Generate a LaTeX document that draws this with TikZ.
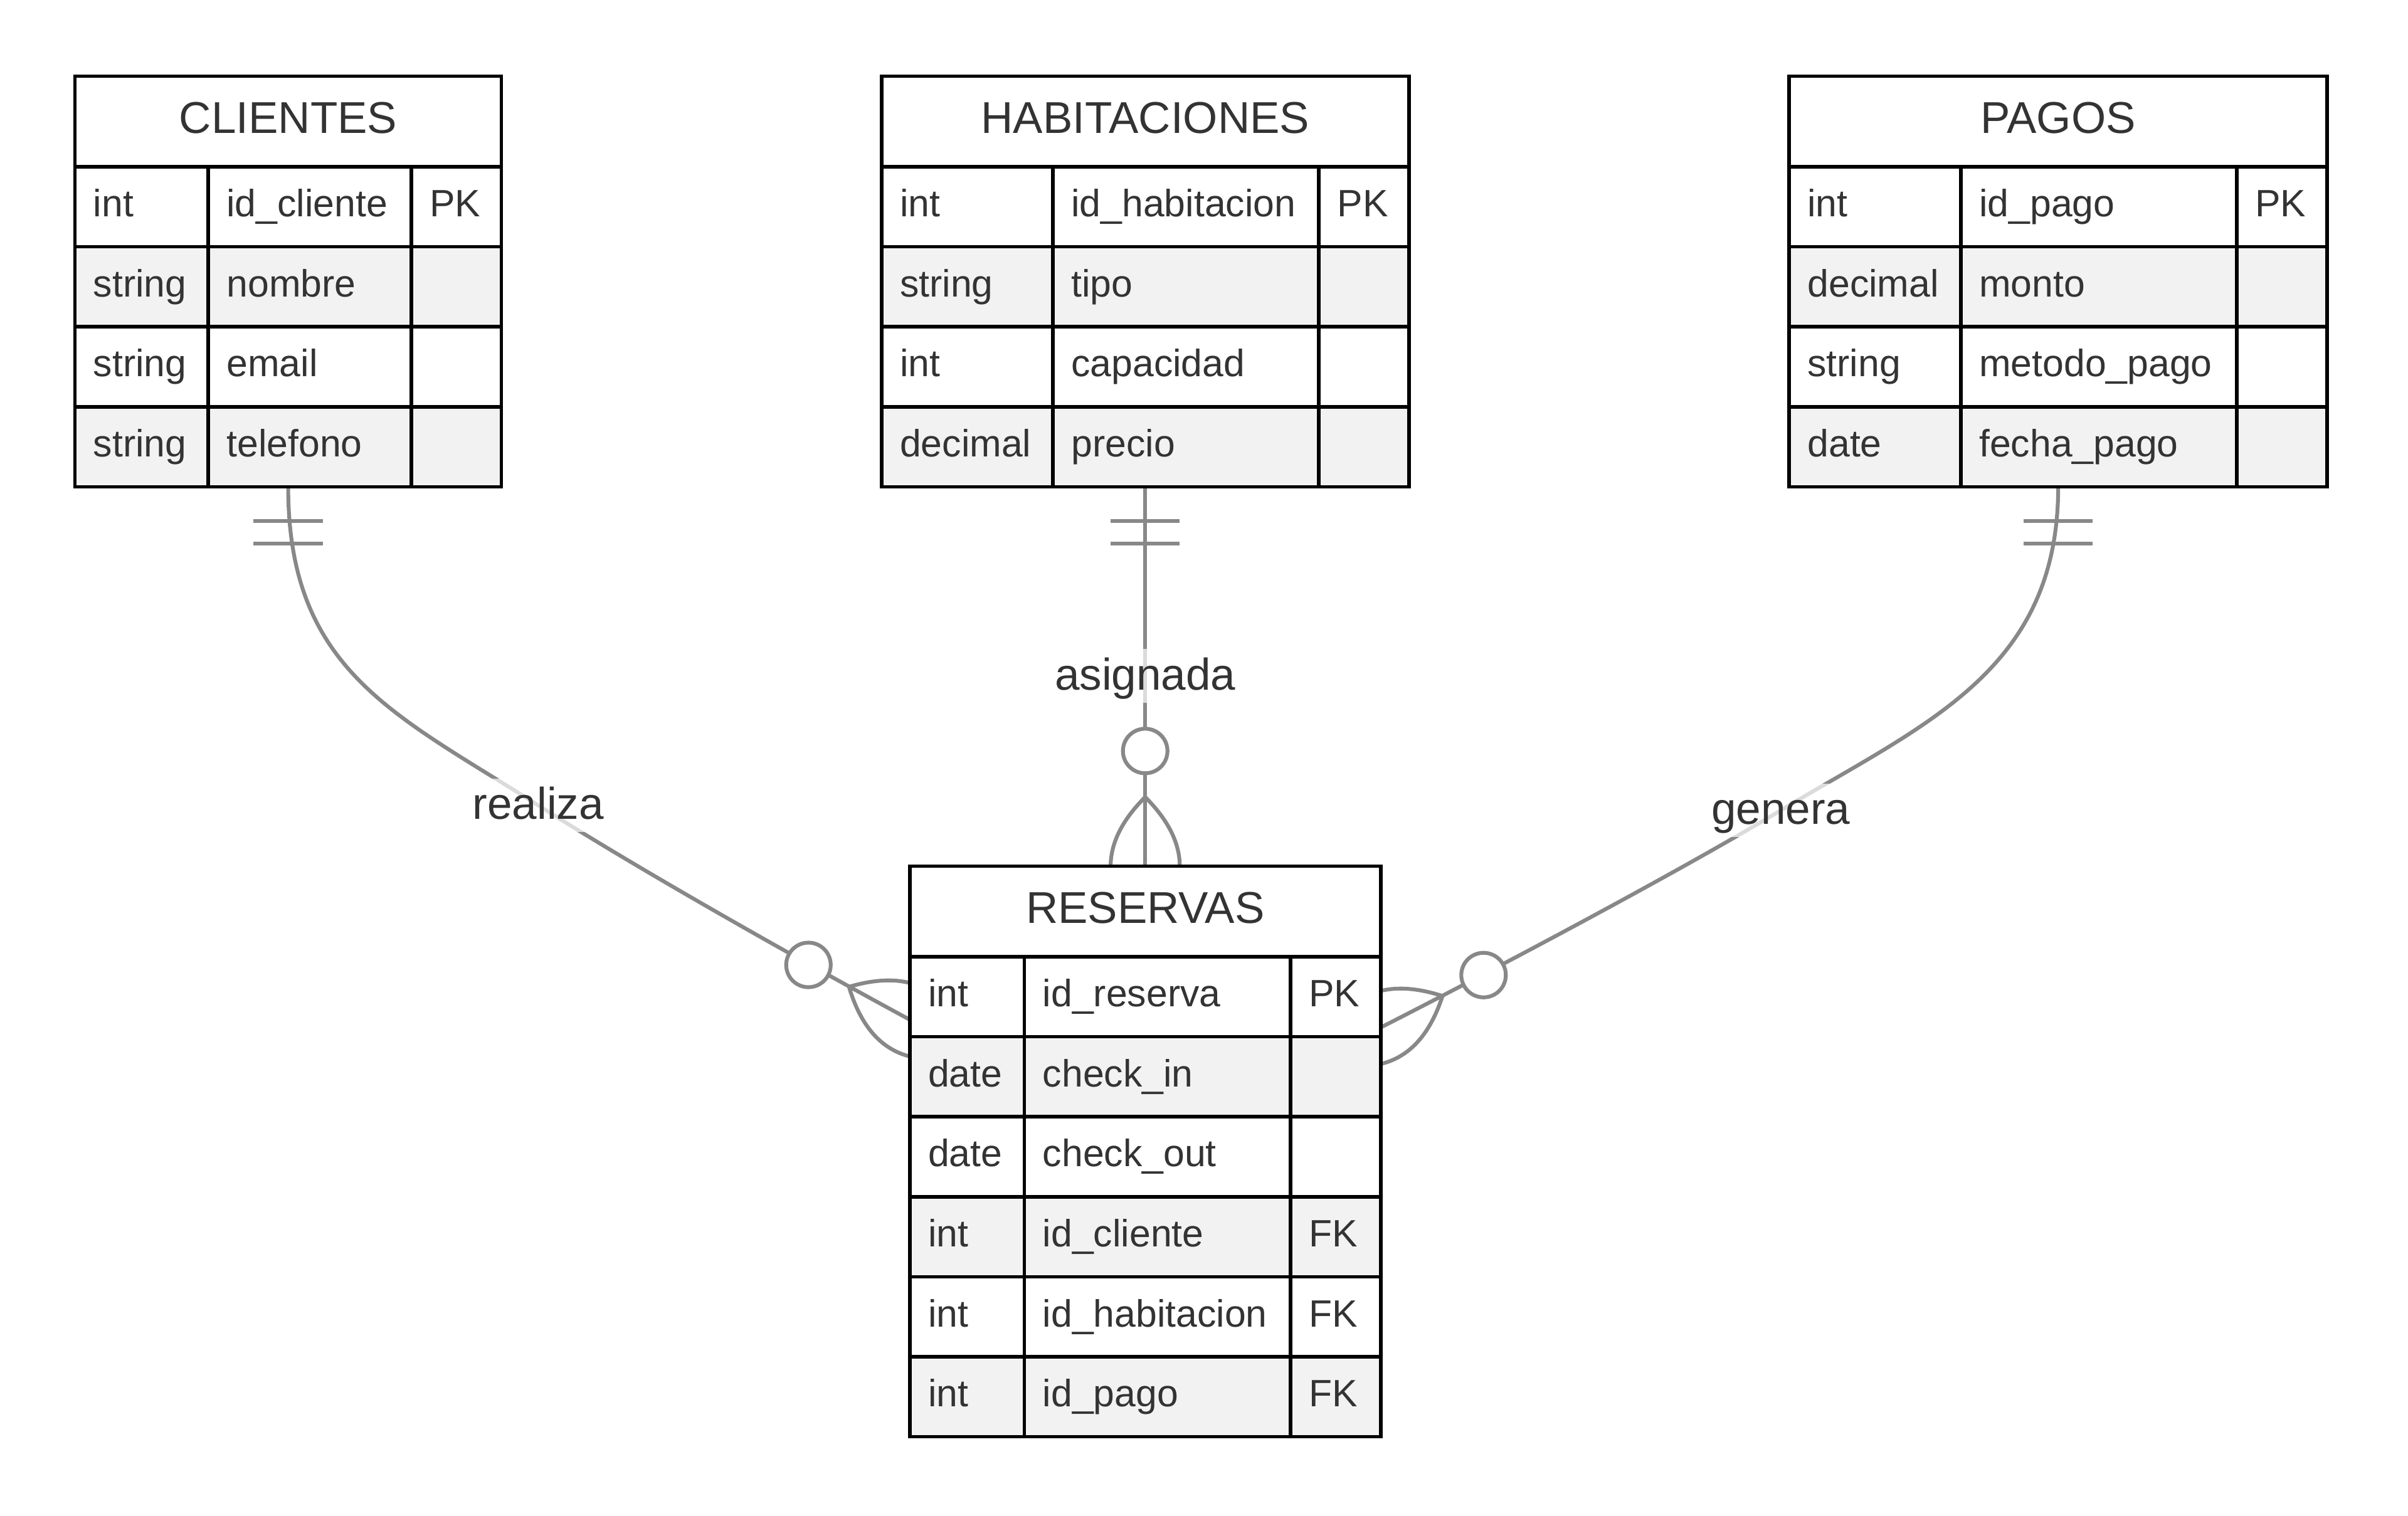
\documentclass[tikz,border=0pt]{standalone}
\usepackage{fontspec}
\setmainfont{Liberation Sans}
\usetikzlibrary{backgrounds}

\definecolor{rowgray}{HTML}{F2F2F2}
\definecolor{linegray}{HTML}{888888}
\definecolor{textgray}{HTML}{333333}

\tikzset{
  pics/onlyone/.style={code={
    \draw[relline] (-22.5,22.5) -- (22.5,22.5);
    \draw[relline] (-22.5,37) -- (22.5,37);
  }},
  pics/zeromany/.style={code={
    \draw[relline] (45,0) .. controls (15,30) and (-15,30) .. (-45,0);
    \draw[relline] (45,0) .. controls (15,-30) and (-15,-30) .. (-45,0);
    \draw[relline, fill=white] (75,0) circle[radius=14.5];
  }}
}

\begin{document}
\begin{tikzpicture}[x=1pt, y=-1pt]
        \tikzstyle{relline}=[draw=linegray, line width=2.5pt]
        \tikzstyle{headcell}=[draw=black, line width=2.3pt, fill=white, anchor=north west, inner sep=0pt, outer sep=0pt,
            minimum height=59pt, text height=20pt, text depth=4.4pt, text=textgray, font=\fontsize{29}{35}\selectfont]
        \tikzstyle{attrcell}=[draw=black, line width=2.3pt, anchor=north west, inner xsep=12pt, inner ysep=0pt, outer sep=0pt,
            minimum height=52.1pt, text height=18pt, text depth=5pt, align=left, text=textgray, font=\fontsize{24.8}{30}\selectfont]
        \tikzstyle{tablebox}=[draw=black, line width=2.3pt, anchor=north west, inner sep=0pt, outer sep=0pt]
        \tikzstyle{rellabel}=[fill=white, fill opacity=0.7, text opacity=1, text=textgray, inner xsep=1pt, inner ysep=0pt,
            text height=26.4pt, text depth=8.6pt, font=\fontsize{29}{35}\selectfont]

        \useasboundingbox (0,0) rectangle (1568,987);

        % CLIENTES
        \node[headcell, minimum width=277.7pt] (cliHead) at (48.8,49.6) {CLIENTES};
        \foreach \ty/\at/\ky [count=\i] in {int/id\_cliente/PK, string/nombre/, string/email/, string/telefono/} {
            \ifodd\i\relax\def\rowfill{white}\else\def\rowfill{rowgray}\fi
            \node[attrcell, fill=\rowfill, text width=62.8pt] (cli-ty-\i) at ({48.8}, {108.6+52.1*(\i-1)}) {\ty};
            \node[attrcell, fill=\rowfill, text width=108.2pt] (cli-at-\i) at (cli-ty-\i.north east) {\at};
            \node[attrcell, fill=\rowfill, text width=34.7pt] (cli-ky-\i) at (cli-at-\i.north east) {\ky};
        }
        \node[tablebox, minimum width=277.7pt, minimum height=267.4pt] (cli) at (48.8,49.6) {};

        % HABITACIONES
        \node[headcell, minimum width=343.4pt] (habHead) at (574,49.6) {HABITACIONES};
        \foreach \ty/\at/\ky [count=\i] in {int/id\_habitacion/PK, string/tipo/, int/capacidad/, decimal/precio/} {
            \ifodd\i\relax\def\rowfill{white}\else\def\rowfill{rowgray}\fi
            \node[attrcell, fill=\rowfill, text width=87.6pt] (hab-ty-\i) at ({574}, {108.6+52.1*(\i-1)}) {\ty};
            \node[attrcell, fill=\rowfill, text width=149.2pt] (hab-at-\i) at (hab-ty-\i.north east) {\at};
            \node[attrcell, fill=\rowfill, text width=34.6pt] (hab-ky-\i) at (hab-at-\i.north east) {\ky};
        }
        \node[tablebox, minimum width=343.4pt, minimum height=267.4pt] (hab) at (574,49.6) {};

        % PAGOS
        \node[headcell, minimum width=350.4pt] (pagHead) at (1165,49.6) {PAGOS};
        \foreach \ty/\at/\ky [count=\i] in {int/id\_pago/PK, decimal/monto/, string/metodo\_pago/, date/fecha\_pago/} {
            \ifodd\i\relax\def\rowfill{white}\else\def\rowfill{rowgray}\fi
            \node[attrcell, fill=\rowfill, text width=87.8pt] (pag-ty-\i) at ({1165}, {108.6+52.1*(\i-1)}) {\ty};
            \node[attrcell, fill=\rowfill, text width=155.6pt] (pag-at-\i) at (pag-ty-\i.north east) {\at};
            \node[attrcell, fill=\rowfill, text width=35pt] (pag-ky-\i) at (pag-at-\i.north east) {\ky};
        }
        \node[tablebox, minimum width=350.4pt, minimum height=267.4pt] (pag) at (1165,49.6) {};

        % RESERVAS
        \node[headcell, minimum width=306.8pt] (resHead) at (592.4,564.1) {RESERVAS};
        \foreach \ty/\at/\ky [count=\i] in {int/id\_reserva/PK, date/check\_in/, date/check\_out/, int/id\_cliente/FK, int/id\_habitacion/FK, int/id\_pago/FK} {
            \ifodd\i\relax\def\rowfill{white}\else\def\rowfill{rowgray}\fi
            \node[attrcell, fill=\rowfill, text width=50.6pt] (res-ty-\i) at ({592.4}, {623.1+52.1*(\i-1)}) {\ty};
            \node[attrcell, fill=\rowfill, text width=149.3pt] (res-at-\i) at (res-ty-\i.north east) {\at};
            \node[attrcell, fill=\rowfill, text width=34.9pt] (res-ky-\i) at (res-at-\i.north east) {\ky};
        }
        \node[tablebox, minimum width=306.8pt, minimum height=371.6pt] (res) at (592.4,564.1) {};

        \begin{scope}[on background layer]
            \fill[white] (0,0) rectangle (1568,987);
            \coordinate (realizaMid) at (350.5,524.5);
            \coordinate (realizaEnd) at ([yshift=-100pt]res.north west);
            \coordinate (asignadaMid) at (hab.south |- 0,440.3);
            \coordinate (generaMid) at (1159.5,527.8);
            \coordinate (generaEnd) at ([yshift=-105pt]res.north east);

            \draw[relline] (cli.south) .. controls +(0,120) and +(-92.8,-59.1) .. (realizaMid)
                .. controls +(67.5,43) and +(-70.3,-38.1) .. (realizaEnd);
            \draw[relline] (hab.south) -- (hab.south |- res.north);
            \draw[relline] (pag.south) .. controls +(0,120) and +(94.3,-56.7) .. (generaMid)
                .. controls +(-68.6,41.2) and +(71.3,-36.3) .. (generaEnd);

            \pic at (cli.south) {onlyone};
            \pic at (hab.south) {onlyone};
            \pic at (pag.south) {onlyone};
            \pic[rotate=151.6] at (realizaEnd) {zeromany};
            \pic[rotate=90] at (hab.south |- res.north) {zeromany};
            \pic[rotate=27] at (generaEnd) {zeromany};

            \node[rellabel] (realizaTxt) at (realizaMid) {realiza};
            \node[rellabel] (asignadaTxt) at (asignadaMid) {asignada};
            \node[rellabel] (generaTxt) at (generaMid) {genera};
        \end{scope}
\end{tikzpicture}
\end{document}
